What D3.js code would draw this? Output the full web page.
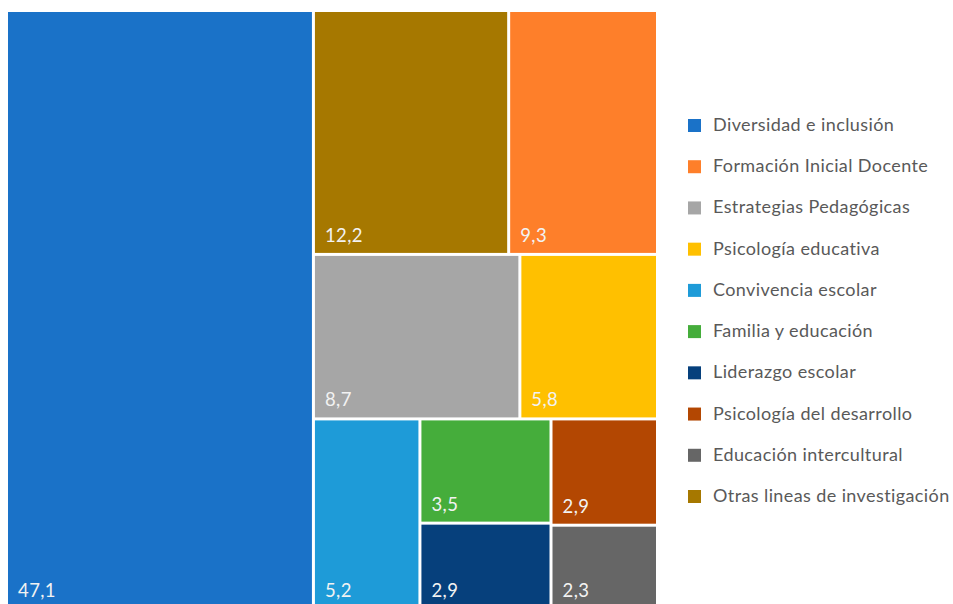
<!DOCTYPE html>
<html><head><meta charset="utf-8">
<script src="https://cdn.jsdelivr.net/npm/d3@7"></script>
<style>body{margin:0;background:#fff;} svg{display:block;}</style>
</head><body>
<svg id="c" width="953" height="604"></svg>
<script>
const categories = ["Diversidad e inclusión","Formación Inicial Docente","Estrategias Pedagógicas","Psicología educativa","Convivencia escolar","Familia y educación","Liderazgo escolar","Psicología del desarrollo","Educación intercultural","Otras lineas de investigación"];
const values = [47.1, 9.3, 8.7, 5.8, 5.2, 3.5, 2.9, 2.9, 2.3, 12.2];
const labels = ["47,1","9,3","8,7","5,8","5,2","3,5","2,9","2,9","2,3","12,2"];
const colors = ["#1A72C8","#FE7F2A","#A6A6A6","#FFC000","#1E9BD8","#45AD3B","#06407C","#B34702","#666666","#A67800"];

const svg = d3.select("#c");
const data = categories.map((c,i)=>({name:c, value:values[i], label:labels[i], color:colors[i], idx:i}));
const root = d3.hierarchy({children:data}).sum(d=>d.value||0)
  .sort((a,b)=>(b.value-a.value)||(a.data.idx-b.data.idx));
d3.treemap().tile(d3.treemapSquarify.ratio(1)).size([648, 596]).paddingInner(3).round(false)(root);

const g = svg.append("g").attr("transform","translate(8,12)");
const cell = g.selectAll("g").data(root.leaves()).join("g")
  .attr("transform", d=>`translate(${d.x0},${d.y0})`);
cell.append("rect").attr("width", d=>d.x1-d.x0).attr("height", d=>d.y1-d.y0).attr("fill", d=>d.data.color);
cell.append("text").attr("x",10).attr("y", d=>d.y1-d.y0-11)
  .attr("fill","#f2f2f2").style("font-family","Lato, 'Open Sans', sans-serif").style("font-size","18.5px")
  .style("letter-spacing","0.4px")
  .text(d=>d.data.label);

const ly = d3.scalePoint().domain(categories).range([131, 502]);
const lg = svg.append("g").selectAll("g").data(data).join("g")
  .attr("transform", d=>`translate(0,${ly(d.name)})`);
lg.append("rect").attr("x",688).attr("y",-12).attr("width",13).attr("height",13).attr("fill",d=>d.color);
lg.append("text").attr("x",713).attr("y",0).attr("fill","#595959")
  .style("font-family","Lato, 'Open Sans', sans-serif").style("font-size","18px")
  .style("letter-spacing","0.4px").text(d=>d.name);
</script>
</body></html>
